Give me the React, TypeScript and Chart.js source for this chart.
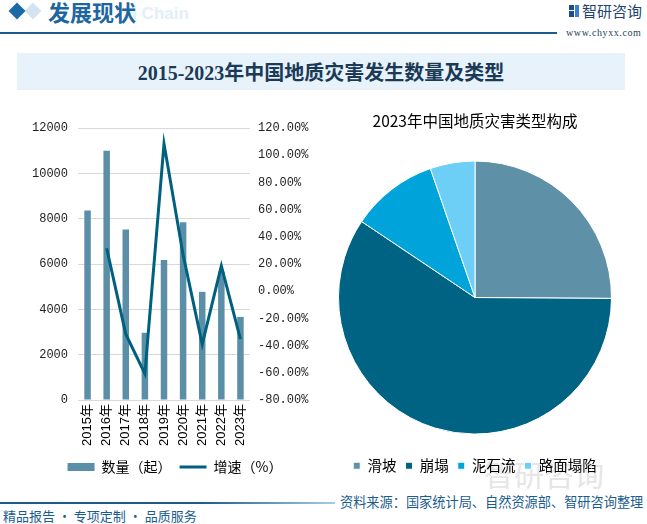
import React, { useEffect, useRef } from "react";
import { Chart, registerables } from "chart.js";

Chart.register(...registerables);

const years = ["2015年", "2016年", "2017年", "2018年", "2019年", "2020年", "2021年", "2022年", "2023年"];
const disasterCounts = [8355, 10997, 7521, 2966, 6181, 7840, 4772, 5659, 3666];
const growthRates: (number | null)[] = [null, 31.6, -31.6, -60.6, 108.4, 26.8, -39.1, 18.6, -35.2];
const seriesNames = ["数量（起）", "增速（%）"];

const pieLabels = ["滑坡", "崩塌", "泥石流", "路面塌陷"];
const pieValues = [25.1, 59.3, 10.3, 5.3];
const pieColors = ["#5e91a7", "#006384", "#00a3da", "#6dcff6"];

const CJK = '"Noto Sans CJK SC", "Noto Sans", sans-serif';
const MONO = '"Liberation Mono", "Noto Sans CJK SC", monospace';

function ComboChart() {
  const ref = useRef<HTMLCanvasElement | null>(null);
  useEffect(() => {
    if (!ref.current) return;
    const chart = new Chart(ref.current, {
      data: {
        labels: years,
        datasets: [
          {
            type: "line",
            label: seriesNames[1],
            data: growthRates,
            yAxisID: "y1",
            borderColor: "#006080",
            backgroundColor: "#006080",
            borderWidth: 3,
            pointRadius: 0,
            tension: 0,
            pointStyle: "line",
            order: 0,
          },
          {
            type: "bar",
            label: seriesNames[0],
            data: disasterCounts,
            yAxisID: "y",
            backgroundColor: "#5b8fa7",
            borderWidth: 0,
            categoryPercentage: 0.34,
            barPercentage: 1,
            pointStyle: "rect",
            order: 1,
          },
        ],
      } as any,
      options: {
        animation: false,
        responsive: false,
        layout: { padding: { top: 20, bottom: 0, left: 0, right: 0 } },
        plugins: {
          title: { display: false },
          tooltip: { enabled: false },
          legend: {
            position: "bottom",
            reverse: true,
            labels: {
              usePointStyle: true,
              pointStyleWidth: 27,
              boxHeight: 8,
              padding: 8,
              color: "#000",
              font: { family: CJK, size: 14 },
            },
          },
        },
        scales: {
          x: {
            grid: { display: false, drawTicks: false },
            border: { display: false },
            ticks: {
              autoSkip: false,
              minRotation: 90,
              maxRotation: 90,
              padding: 4,
              color: "#000",
              font: { family: '"Liberation Sans", "Noto Sans CJK SC", sans-serif', size: 13 },
            },
            afterFit: (s: any) => {
              s.height = 52;
            },
          },
          y: {
            position: "left",
            min: 0,
            max: 12000,
            grid: { color: "#d9d9d9", drawTicks: false, lineWidth: 1 },
            border: { display: false },
            ticks: {
              stepSize: 2000,
              padding: 10,
              color: "#222",
              font: { family: MONO, size: 12 },
              callback: (v: any) => String(v),
            },
            afterFit: (s: any) => {
              s.width = 58;
            },
          },
          y1: {
            position: "right",
            min: -80,
            max: 120,
            grid: { display: false, drawTicks: false },
            border: { display: false },
            ticks: {
              stepSize: 20,
              padding: 8,
              color: "#222",
              font: { family: MONO, size: 12 },
              callback: (v: any) => Number(v).toFixed(2) + "%",
            },
            afterFit: (s: any) => {
              s.width = 80;
            },
          },
        },
      } as any,
    });
    return () => chart.destroy();
  }, []);
  return (
    <canvas
      ref={ref}
      width={310}
      height={376}
      style={{ position: "absolute", left: 20, top: 108, width: 310, height: 376 }}
    />
  );
}

function PieChart() {
  const ref = useRef<HTMLCanvasElement | null>(null);
  useEffect(() => {
    if (!ref.current) return;
    const chart = new Chart(ref.current, {
      type: "pie",
      data: {
        labels: pieLabels,
        datasets: [
          {
            data: pieValues,
            backgroundColor: pieColors,
            borderColor: "#ffffff",
            borderWidth: 1,
          },
        ],
      },
      options: {
        animation: false,
        responsive: false,
        layout: { padding: 0 },
        plugins: {
          tooltip: { enabled: false },
          title: {
            display: true,
            text: "2023年中国地质灾害类型构成",
            color: "#000",
            font: { family: CJK, size: 15.5, weight: "normal" as any },
            padding: { top: 8, bottom: 15 },
          },
          legend: {
            position: "bottom",
            labels: {
              boxWidth: 7,
              boxHeight: 7,
              padding: 9,
              color: "#000",
              font: { family: CJK, size: 14.5 },
            },
          },
        },
      } as any,
    });
    return () => chart.destroy();
  }, []);
  return (
    <canvas
      ref={ref}
      width={274}
      height={379}
      style={{ position: "absolute", left: 338, top: 104, width: 274, height: 379 }}
    />
  );
}

export default function App() {
  useEffect(() => {
    document.body.style.margin = "0";
  }, []);
  const blue = "#1a5c8e";
  return (
    <div
      style={{
        position: "fixed",
        left: 0,
        top: 0,
        width: 647,
        height: 524,
        background: "#ffffff",
        overflow: "hidden",
        fontFamily: CJK,
      }}
    >
      {/* header */}
      <div
        style={{
          position: "absolute",
          left: 27,
          top: 5,
          width: 12,
          height: 12,
          background: "#d3e4f0",
          transform: "rotate(45deg)",
        }}
      />
      <div
        style={{
          position: "absolute",
          left: 11,
          top: 5,
          width: 12,
          height: 12,
          background: "#1a6aa6",
          transform: "rotate(45deg)",
        }}
      />
      <div
        style={{
          position: "absolute",
          left: 118,
          top: 4,
          fontFamily: '"Liberation Sans", sans-serif',
          fontWeight: "bold",
          fontSize: 17,
          color: "#e3eef7",
          whiteSpace: "nowrap",
        }}
      >
        ial Chain
      </div>
      <div
        style={{
          position: "absolute",
          left: 48,
          top: -4,
          fontSize: 22,
          fontWeight: "bold",
          color: "#1d66a0",
          whiteSpace: "nowrap",
          lineHeight: "30px",
        }}
      >
        发展现状
      </div>
      <div style={{ position: "absolute", left: 0, top: 32, width: 557, height: 1.5, background: "#1a5c8e" }} />
      {/* logo */}
      <div style={{ position: "absolute", left: 569, top: 5, width: 5, height: 5, background: "#1a4d8c" }} />
      <div style={{ position: "absolute", left: 569, top: 11, width: 5, height: 6, background: "#1a4d8c" }} />
      <div style={{ position: "absolute", left: 575, top: 5, width: 4, height: 12, background: "#3b7fd0" }} />
      <div
        style={{
          position: "absolute",
          left: 582,
          top: 1,
          fontSize: 15,
          color: "#1f4470",
          whiteSpace: "nowrap",
          lineHeight: "20px",
        }}
      >
        智研咨询
      </div>
      <div
        style={{
          position: "absolute",
          left: 566,
          top: 26,
          fontSize: 10,
          fontFamily: '"Liberation Serif", serif',
          color: "#1f3f60",
          letterSpacing: 0.6,
          whiteSpace: "nowrap",
          lineHeight: "13px",
        }}
      >
        www.chyxx.com
      </div>

      {/* title box */}
      <div
        style={{
          position: "absolute",
          left: 17,
          top: 53,
          width: 608,
          height: 37,
          background: "#e7f2fa",
          display: "flex",
          alignItems: "center",
          justifyContent: "center",
          color: "#1b3a58",
          fontWeight: "bold",
          fontSize: 20,
          fontFamily: '"Liberation Serif", "Noto Sans CJK SC", serif',
          whiteSpace: "nowrap",
        }}
      >
        2015-2023年中国地质灾害发生数量及类型
      </div>

      {/* watermark */}
      <div
        style={{
          position: "absolute",
          left: 484,
          top: 455,
          fontSize: 30,
          color: "#e6e6e6",
          whiteSpace: "nowrap",
          lineHeight: "36px",
        }}
      >
        智研咨询
      </div>

      <ComboChart />
      <PieChart />

      {/* footer */}
      <div
        style={{
          position: "absolute",
          left: 0,
          top: 502,
          width: 335,
          height: 2,
          background: "linear-gradient(to right, #1a5c8e, #1a5c8e 60%, #a8cbe3)",
        }}
      />
      <div
        style={{
          position: "absolute",
          left: 3,
          top: 507,
          fontSize: 13,
          color: blue,
          whiteSpace: "nowrap",
          lineHeight: "17px",
        }}
      >
        精品报告 · 专项定制 · 品质服务
      </div>
      <div
        style={{
          position: "absolute",
          left: 340,
          top: 493,
          fontSize: 13.2,
          color: blue,
          whiteSpace: "nowrap",
          lineHeight: "18px",
        }}
      >
        资料来源：国家统计局、自然资源部、智研咨询整理
      </div>
    </div>
  );
}
